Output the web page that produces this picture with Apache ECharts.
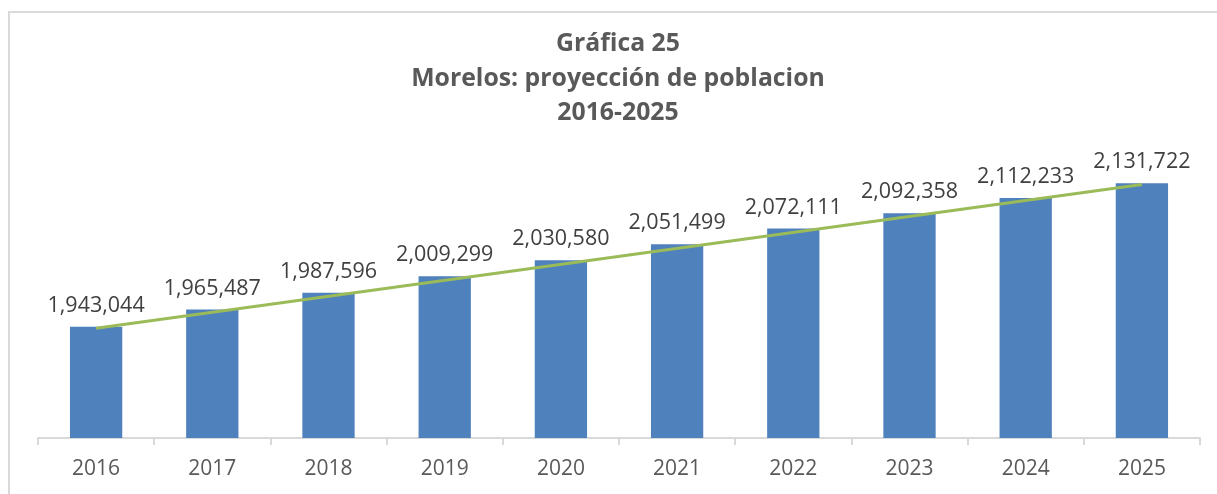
<!DOCTYPE html>
<html>
<head>
<meta charset="utf-8">
<script src="https://cdn.jsdelivr.net/npm/echarts@6/dist/echarts.min.js"></script>
<style>
  html, body { margin: 0; padding: 0; background: #fff; }
  #chart { width: 1217px; height: 494px; }
</style>
</head>
<body>
<div id="chart"></div>
<script>
const years = ['2016', '2017', '2018', '2019', '2020', '2021', '2022', '2023', '2024', '2025']
const population = [1943044, 1965487, 1987596, 2009299, 2030580, 2051499, 2072111, 2092358, 2112233, 2131722]
// linear trend line, only its two ends
const trend = [1941000, null, null, null, null, null, null, null, null, 2130000]

const chart = echarts.init(document.getElementById('chart'))

chart.setOption({
  animation: false,
  textStyle: { fontFamily: 'Open Sans' },
  title: {
    text: 'Gráfica 25\nMorelos: proyección de poblacion\n2016-2025',
    left: 618,
    textAlign: 'center',
    top: 27,
    padding: 0,
    textStyle: {
      fontFamily: 'Open Sans',
      fontSize: 24.8,
      fontWeight: 'bold',
      color: '#595959',
      lineHeight: 34.5
    }
  },
  graphic: [{
    type: 'rect',
    shape: { x: 9, y: 12, width: 1400, height: 700 },
    style: { fill: null, stroke: '#d9d9d9', lineWidth: 2 },
    silent: true
  }],
  grid: {
    left: 38,
    right: 17,
    top: 169.4,
    bottom: 56
  },
  xAxis: {
    type: 'category',
    data: years,
    axisLine: { show: true, lineStyle: { color: '#d9d9d9', width: 2 } },
    axisTick: { show: true, length: 7, lineStyle: { color: '#d9d9d9', width: 2 } },
    axisLabel: { margin: 21, fontSize: 21, color: '#595959', fontFamily: 'Open Sans' }
  },
  yAxis: {
    type: 'value',
    min: 1796500,
    max: 2150000,
    show: false,
    splitLine: { show: false }
  },
  series: [{
    name: 'Población',
    type: 'bar',
    data: population,
    barCategoryGap: '55%',
    itemStyle: { color: '#4f81bd' },
    label: {
      show: true,
      position: 'top',
      distance: 10,
      fontSize: 21.5,
      color: '#404040',
      fontFamily: 'Open Sans',
      formatter: p => p.value.toLocaleString('en-US')
    }
  }, {
    name: 'Tendencia',
    type: 'line',
    data: trend,
    connectNulls: true,
    symbol: 'none',
    z: 5,
    lineStyle: { color: '#9bbb59', width: 3 }
  }]
})
</script>
</body>
</html>
